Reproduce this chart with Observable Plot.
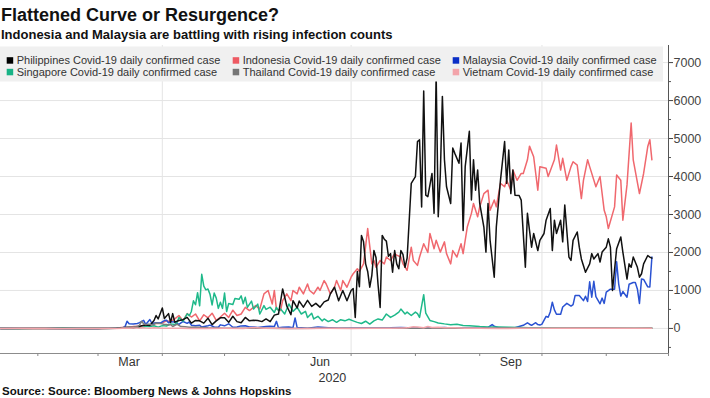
<!DOCTYPE html>
<html>
<head>
<meta charset="utf-8">
<script src="https://cdn.jsdelivr.net/npm/d3@7"></script>
<script src="https://cdn.jsdelivr.net/npm/@observablehq/plot@0.6"></script>
<style>
  html, body { margin: 0; padding: 0; background: #fff; }
  #chart { position: relative; width: 710px; height: 398px; overflow: hidden; background: #fff; }
  #chart > svg { position: absolute; left: 0; }
</style>
</head>
<body>
<div id="chart"></div>
<script>
const FONT = "'Liberation Sans', Arial, sans-serif";
const title = "Flattened Curve or Resurgence?";
const subtitle = "Indonesia and Malaysia are battling with rising infection counts";
const source = "Source: Source: Bloomberg News & Johns Hopskins";

const seriesNames = ["Philippines", "Indonesia", "Malaysia", "Singapore", "Thailand", "Vietnam"];
const legendLabels = [
  "Philippines Covid-19 daily confirmed case",
  "Indonesia Covid-19 daily confirmed case",
  "Malaysia Covid-19 daily confirmed case",
  "Singapore Covid-19 daily confirmed case",
  "Thailand Covid-19 daily confirmed case",
  "Vietnam Covid-19 daily confirmed case"
];
const lineColors = ["#111111", "#f0686e", "#2a52d2", "#1fb98a", "#7c7c7c", "#f3a4aa"];
const swatchColors = ["#000000", "#ee5a63", "#0b2fc6", "#19b386", "#767676", "#f3a4aa"];

const yTicks = [0, 1000, 2000, 3000, 4000, 5000, 6000, 7000];
const yMinorTicks = [-500, 500, 1500, 2500, 3500, 4500, 5500, 6500];
const yDomain = [-660, 7450];
const xDomain = ["2020-01-14", "2020-12-01"];
const monthTicks = ["2020-02-01","2020-03-01","2020-04-01","2020-05-01","2020-06-01","2020-07-01","2020-08-01","2020-09-01","2020-10-01","2020-11-01","2020-12-01"];
const gridDates = ["2020-04-01", "2020-07-01", "2020-10-01"];
const xLabelDates = ["2020-03-16", "2020-06-16", "2020-09-16"];
const xLabels = ["Mar", "Jun", "Sep"];
const yearLabel = "2020";
const yearLabelDate = "2020-06-22";

// daily confirmed cases, [month-day of 2020, cases]
const philippines = [["01-14",0],["03-06",0],["03-10",3],["03-13",20],["03-16",30],["03-18",15],["03-20",40],["03-22",70],["03-24",90],["03-26",80],["03-28",210],["03-29",340],["03-30",250],["04-01",538],["04-02",260],["04-04",390],["04-05",160],["04-06",390],["04-07",165],["04-09",210],["04-11",230],["04-13",290],["04-15",140],["04-17",210],["04-19",200],["04-21",140],["04-23",270],["04-25",100],["04-27",200],["04-29",280],["05-01",280],["05-03",160],["05-05",320],["05-07",180],["05-09",150],["05-11",290],["05-13",200],["05-15",215],["05-17",210],["05-19",180],["05-21",250],["05-23",180],["05-25",350],["05-27",380],["05-29",1040],["05-30",820],["05-31",590],["06-02",360],["06-03",730],["06-05",540],["06-06",720],["06-08",560],["06-10",740],["06-12",580],["06-14",660],["06-16",560],["06-18",700],["06-20",750],["06-21",910],["06-23",1085],["06-25",730],["06-27",1000],["06-29",730],["07-01",1000],["07-02",1050],["07-03",290],["07-04",1500],["07-05",1100],["07-06",2450],["07-07",2280],["07-08",1700],["07-09",1500],["07-10",1085],["07-11",1400],["07-12",2050],["07-13",1870],["07-14",1150],["07-15",550],["07-16",2450],["07-17",2350],["07-18",2300],["07-19",1900],["07-20",1970],["07-21",1480],["07-22",2050],["07-23",1700],["07-24",1570],["07-25",2050],["07-26",1950],["07-27",1610],["07-28",1850],["07-30",3820],["08-01",4000],["08-02",4920],["08-03",4970],["08-04",3200],["08-05",6250],["08-06",3510],["08-07",3470],["08-09",4080],["08-10",3030],["08-11",6700],["08-12",2940],["08-13",4040],["08-14",6110],["08-15",4440],["08-16",3730],["08-18",3290],["08-19",4750],["08-20",4610],["08-22",4350],["08-23",4880],["08-24",2580],["08-25",4260],["08-27",5190],["08-28",3380],["08-29",4440],["08-30",3640],["08-31",4170],["09-01",3290],["09-03",2670],["09-04",2010],["09-05",3290],["09-06",2320],["09-08",1350],["09-09",2670],["09-11",3900],["09-13",4920],["09-14",3820],["09-15",4700],["09-16",3550],["09-17",4170],["09-18",3510],["09-20",3500],["09-21",3380],["09-23",1610],["09-24",3030],["09-25",2580],["09-26",2140],["09-27",2500],["09-29",2050],["09-30",2320],["10-02",2500],["10-03",2850],["10-05",3160],["10-06",2050],["10-07",2850],["10-08",2500],["10-10",2850],["10-11",2280],["10-12",3250],["10-14",1880],["10-15",1790],["10-16",2320],["10-18",2540],["10-19",2140],["10-20",1830],["10-22",1480],["10-24",1700],["10-25",1970],["10-26",1830],["10-28",1970],["10-29",1750],["10-30",2010],["11-01",2140],["11-02",2360],["11-03",2140],["11-04",1000],["11-06",2100],["11-08",2410],["11-09",2010],["11-11",1300],["11-12",1700],["11-13",1610],["11-14",1880],["11-16",1610],["11-17",1350],["11-18",1440],["11-19",1700],["11-21",1920],["11-22",1880],["11-23",1850]];

const indonesia = [["01-14",0],["03-01",0],["03-06",2],["03-10",10],["03-14",30],["03-16",20],["03-18",50],["03-20",60],["03-22",60],["03-24",105],["03-26",100],["03-28",130],["03-30",130],["04-01",150],["04-03",200],["04-05",180],["04-07",250],["04-09",340],["04-11",200],["04-13",390],["04-15",300],["04-17",380],["04-19",200],["04-21",360],["04-23",280],["04-25",400],["04-27",210],["04-29",300],["05-01",400],["05-03",290],["05-05",480],["05-07",340],["05-09",380],["05-11",555],["05-13",470],["05-16",600],["05-18",510],["05-20",910],["05-22",1000],["05-24",645],["05-25",1000],["05-26",510],["05-28",470],["05-29",730],["05-31",910],["06-02",730],["06-03",1000],["06-05",910],["06-06",1085],["06-08",910],["06-10",1170],["06-11",1000],["06-13",910],["06-15",1085],["06-16",1000],["06-18",1260],["06-19",1170],["06-21",910],["06-23",1085],["06-24",1260],["06-26",1000],["06-27",1260],["06-29",1085],["07-01",1350],["07-02",1440],["07-04",1570],["07-05",1500],["07-07",1700],["07-09",2630],["07-11",1700],["07-12",1790],["07-13",1610],["07-15",1790],["07-17",1700],["07-18",1880],["07-20",1790],["07-22",1970],["07-23",1930],["07-25",1880],["07-26",1700],["07-28",1530],["07-30",2140],["07-31",1790],["08-02",1660],["08-03",1880],["08-05",2230],["08-07",2000],["08-08",2500],["08-10",2100],["08-11",2320],["08-13",2010],["08-15",2280],["08-16",1970],["08-18",1700],["08-19",2050],["08-21",1880],["08-23",2230],["08-24",1970],["08-26",2670],["08-28",3030],["08-29",3290],["08-31",2940],["09-01",3200],["09-03",3550],["09-05",3640],["09-06",3110],["09-08",3380],["09-09",3200],["09-11",3820],["09-13",3730],["09-14",3900],["09-16",3640],["09-17",4170],["09-19",3900],["09-21",4080],["09-22",4080],["09-24",4440],["09-25",4800],["09-27",4520],["09-29",3640],["09-30",4260],["10-03",4220],["10-04",4000],["10-07",4440],["10-08",4830],["10-10",4170],["10-11",4480],["10-13",3900],["10-15",4260],["10-16",4390],["10-18",4300],["10-20",3420],["10-21",3900],["10-23",4440],["10-24",4260],["10-27",3730],["10-29",4000],["10-31",3110],["11-01",2940],["11-02",2630],["11-05",3200],["11-06",4040],["11-08",3900],["11-09",2850],["11-11",3780],["11-13",5410],["11-14",4440],["11-17",3550],["11-19",4080],["11-21",4790],["11-22",4970],["11-23",4440]];

const malaysia = [["01-14",0],["01-25",4],["02-04",2],["02-15",0],["03-01",0],["03-05",14],["03-09",10],["03-11",20],["03-13",26],["03-14",41],["03-15",190],["03-16",125],["03-18",117],["03-20",130],["03-21",153],["03-23",212],["03-24",106],["03-26",235],["03-27",130],["03-29",150],["03-31",140],["04-02",208],["04-03",217],["04-04",150],["04-05",179],["04-07",170],["04-09",109],["04-11",184],["04-13",134],["04-14",170],["04-15",85],["04-17",69],["04-19",84],["04-20",36],["04-23",71],["04-24",88],["04-26",38],["04-28",31],["04-29",94],["05-01",69],["05-03",122],["05-05",30],["05-07",39],["05-09",67],["05-11",70],["05-13",37],["05-15",36],["05-17",22],["05-19",37],["05-21",50],["05-23",60],["05-25",48],["05-26",187],["05-27",15],["05-29",30],["06-01",38],["06-03",20],["06-04",277],["06-05",19],["06-07",19],["06-10",7],["06-15",41],["06-20",21],["06-25",5],["07-01",4],["07-10",13],["07-20",15],["07-25",23],["08-01",10],["08-10",12],["08-15",25],["08-20",8],["08-27",5],["09-01",6],["09-05",26],["09-07",100],["09-08",62],["09-10",18],["09-14",12],["09-18",20],["09-20",52],["09-22",82],["09-24",147],["09-25",111],["09-26",82],["09-28",150],["09-29",101],["09-30",89],["10-01",115],["10-03",317],["10-04",293],["10-05",432],["10-06",691],["10-07",489],["10-08",374],["10-10",374],["10-11",563],["10-13",660],["10-15",589],["10-16",629],["10-17",869],["10-19",865],["10-21",732],["10-22",847],["10-23",710],["10-24",1228],["10-25",823],["10-26",1240],["10-27",835],["10-29",649],["10-30",799],["10-31",659],["11-01",957],["11-03",1032],["11-05",1032],["11-06",1755],["11-07",1168],["11-08",852],["11-09",972],["11-11",822],["11-12",1162],["11-14",1208],["11-15",1208],["11-16",1041],["11-17",659],["11-18",1304],["11-19",1290],["11-21",1096],["11-22",1090],["11-23",1880]];

const singapore = [["01-14",0],["01-23",1],["01-30",3],["02-04",6],["02-07",5],["02-10",2],["02-13",9],["02-17",3],["02-20",1],["02-24",1],["02-29",4],["03-05",2],["03-10",6],["03-13",13],["03-16",17],["03-18",23],["03-20",40],["03-22",23],["03-24",54],["03-26",52],["03-28",70],["03-30",35],["04-01",74],["04-03",65],["04-05",120],["04-07",106],["04-08",142],["04-09",287],["04-11",191],["04-13",386],["04-14",334],["04-15",447],["04-16",728],["04-17",623],["04-18",942],["04-19",596],["04-20",1426],["04-21",1111],["04-22",1016],["04-23",1037],["04-24",897],["04-25",618],["04-26",931],["04-27",799],["04-28",528],["04-29",690],["04-30",528],["05-01",932],["05-02",447],["05-03",657],["05-05",632],["05-06",788],["05-08",768],["05-09",860],["05-10",650],["05-11",820],["05-12",555],["05-14",720],["05-15",510],["05-17",640],["05-18",380],["05-20",600],["05-21",500],["05-23",560],["05-25",420],["05-26",555],["05-27",470],["05-28",510],["05-30",380],["06-01",645],["06-03",450],["06-05",555],["06-07",380],["06-09",450],["06-10",290],["06-12",400],["06-13",250],["06-15",320],["06-17",200],["06-18",250],["06-20",180],["06-22",230],["06-24",160],["06-26",230],["06-28",200],["06-30",240],["07-02",200],["07-04",160],["07-06",130],["07-08",190],["07-10",115],["07-12",200],["07-14",250],["07-16",220],["07-18",380],["07-20",290],["07-22",350],["07-24",430],["07-25",510],["07-27",380],["07-28",430],["07-30",340],["08-01",430],["08-02",390],["08-03",290],["08-05",890],["08-06",400],["08-08",210],["08-10",180],["08-12",145],["08-15",120],["08-18",100],["08-21",110],["08-24",80],["08-27",70],["09-01",50],["09-05",40],["09-10",35],["09-15",30],["09-20",25],["09-25",20],["10-01",15],["10-08",10],["10-15",8],["10-22",6],["10-29",5],["11-05",8],["11-12",6],["11-18",8],["11-23",5]];

const thailand = [["01-14",0],["01-22",2],["01-28",3],["02-04",6],["02-10",1],["02-20",0],["03-01",1],["03-12",11],["03-15",32],["03-16",33],["03-18",35],["03-20",50],["03-21",89],["03-22",188],["03-23",122],["03-24",106],["03-25",107],["03-26",111],["03-27",91],["03-28",109],["03-29",143],["03-30",136],["03-31",127],["04-01",120],["04-02",104],["04-03",103],["04-04",89],["04-05",102],["04-06",51],["04-08",111],["04-10",50],["04-12",45],["04-14",34],["04-16",29],["04-18",33],["04-20",27],["04-23",15],["04-27",9],["05-01",6],["05-10",5],["05-20",3],["06-01",1],["06-15",4],["07-01",6],["07-15",3],["08-01",5],["08-15",8],["09-01",4],["09-15",10],["10-01",5],["10-15",9],["11-01",10],["11-15",8],["11-23",10]];

const vietnam = [["01-14",0],["01-23",2],["01-30",3],["02-05",2],["02-10",1],["02-14",1],["02-20",0],["03-06",2],["03-10",1],["03-13",8],["03-16",4],["03-18",14],["03-20",11],["03-21",7],["03-22",19],["03-24",11],["03-26",7],["03-28",15],["03-30",10],["04-01",6],["04-03",7],["04-05",4],["04-08",4],["04-10",2],["04-15",0],["04-22",0],["05-01",2],["05-10",0],["05-15",24],["05-20",2],["05-25",3],["06-01",1],["06-10",0],["06-20",3],["07-01",1],["07-10",2],["07-20",3],["07-26",11],["07-28",15],["07-31",45],["08-02",40],["08-05",20],["08-07",50],["08-09",25],["08-12",30],["08-15",17],["08-20",15],["08-25",8],["09-01",3],["09-10",1],["09-20",2],["10-01",3],["10-10",4],["10-20",6],["11-01",5],["11-10",6],["11-20",5],["11-23",4]];

const seriesData = [philippines, indonesia, malaysia, singapore, thailand, vietnam];

const parse = s => new Date(s + "T00:00:00Z");
const rows = [];
seriesData.forEach((arr, k) => arr.forEach(([d, v]) => rows.push({date: parse("2020-" + d), value: v, country: seriesNames[k]})));
const drawOrder = [1, 2, 3, 0, 4, 5];

const plot = Plot.plot({
  width: 710,
  height: 345,
  marginTop: 5,
  marginRight: 42,
  marginBottom: 32,
  marginLeft: 0,
  style: {fontFamily: FONT, fontSize: "12.5px", color: "#333", background: "transparent", overflow: "visible"},
  x: {type: "utc", domain: xDomain.map(parse), axis: null, label: null},
  y: {domain: yDomain, axis: null, label: null},
  marks: [
    Plot.ruleY(yTicks, {stroke: "#e4e4e4", strokeWidth: 1}),
    Plot.ruleX(gridDates.map(parse), {stroke: "#e4e4e4", strokeWidth: 1}),
    ...drawOrder.map(k => Plot.line(rows.filter(r => r.country === seriesNames[k]), {
      x: "date", y: "value", stroke: lineColors[k], strokeWidth: 1.5, strokeLinejoin: "round"
    })),
    Plot.ruleY([yDomain[0]], {stroke: "#8c8c8c"}),
    Plot.ruleX([parse(xDomain[1])], {stroke: "#555"}),
    Plot.axisY({ticks: yTicks, anchor: "right", label: null, tickSize: 4, tickPadding: 1, color: "#444", fontSize: 12.5, tickFormat: d => String(d)}),
    Plot.axisY({ticks: yMinorTicks, anchor: "right", label: null, tickSize: 2, color: "#555", tickFormat: () => ""}),
    Plot.axisX({ticks: monthTicks.map(parse), anchor: "bottom", label: null, tickSize: 3, color: "#888", tickFormat: () => ""}),
    Plot.axisX({ticks: xLabelDates.map(parse), anchor: "bottom", label: null, tickSize: 0, tickPadding: 4, color: "#333", fontSize: 12.5,
      tickFormat: d => xLabels[xLabelDates.findIndex(s => +parse(s) === +d)]}),
    Plot.text([yearLabel], {x: () => parse(yearLabelDate), y: () => yDomain[0], dy: 24.5, fill: "#333", fontSize: 12.5, text: d => d})
  ]
});
plot.style.top = "40px";
const chart = document.getElementById("chart");
chart.appendChild(plot);

// overlay: titles, legend, source
const ov = d3.select(chart).append("svg")
  .attr("width", 710).attr("height", 398)
  .style("top", "0px")
  .style("font-family", FONT);

ov.append("text").attr("x", 1).attr("y", 20.7)
  .attr("font-weight", "bold").attr("font-size", 18).attr("fill", "#111").text(title);
ov.append("text").attr("x", 1).attr("y", 38.8)
  .attr("font-weight", "bold").attr("font-size", 13).attr("fill", "#111").text(subtitle);

ov.append("rect").attr("x", 0).attr("y", 46.5).attr("width", 663).attr("height", 35).attr("fill", "#f0f0f0");
const legendColX = [16.7, 242.7, 462.7];
const legendRowY = [64.2, 75.8];
legendLabels.forEach((lab, k) => {
  const cx = legendColX[k % 3], cy = legendRowY[Math.floor(k / 3)];
  ov.append("rect").attr("x", cx - 10).attr("y", cy - 7).attr("width", 6.5).attr("height", 6.5).attr("fill", swatchColors[k]);
  ov.append("text").attr("x", cx).attr("y", cy).attr("font-size", 11).attr("fill", "#333").text(lab);
});

ov.append("text").attr("x", 2).attr("y", 395)
  .attr("font-weight", "bold").attr("font-size", 11.5).attr("fill", "#111").text(source);
</script>
</body>
</html>
